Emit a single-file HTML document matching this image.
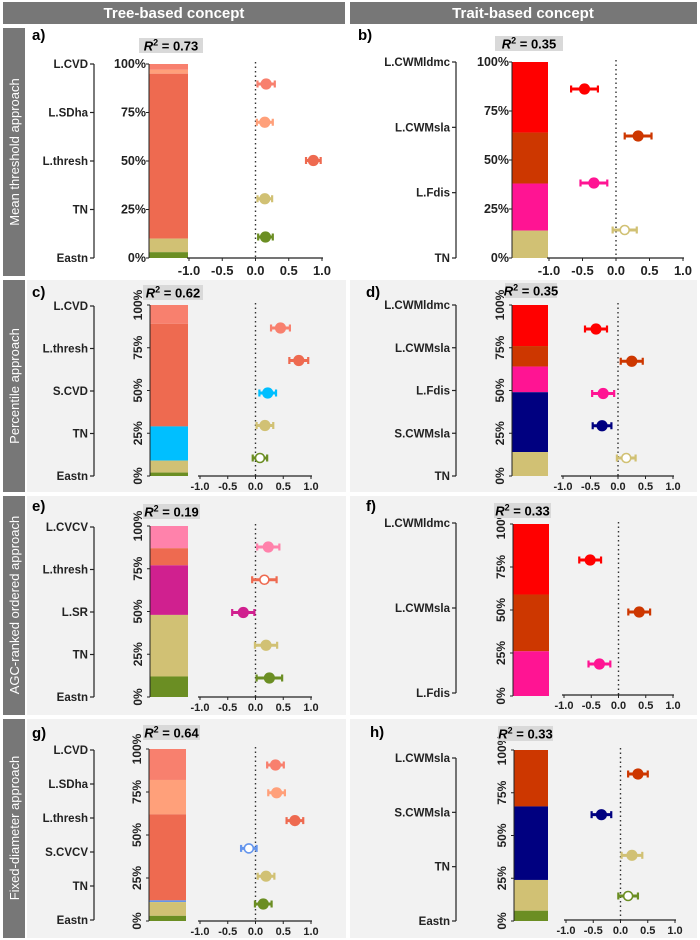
<!DOCTYPE html>
<html><head><meta charset="utf-8">
<style>
body{margin:0;background:#fff;}
svg{display:block;font-family:"Liberation Sans",Arial,sans-serif;}
text{font-weight:bold;}
</style></head>
<body>
<svg id="fig" width="700" height="940" viewBox="0 0 700 940">
  <rect x="3" y="2" width="342" height="22" fill="#777"/>
  <text x="174" y="18" fill="#fff" font-size="15" text-anchor="middle">Tree-based concept</text>
  <rect x="350" y="2" width="347" height="22" fill="#777"/>
  <text x="523" y="18" fill="#fff" font-size="15" text-anchor="middle">Trait-based concept</text>
  <rect x="27" y="280" width="670" height="212" fill="#f2f2f2"/>
  <rect x="27" y="496" width="670" height="219" fill="#f2f2f2"/>
  <rect x="27" y="719" width="670" height="219" fill="#f2f2f2"/>
  <rect x="346" y="28" width="4" height="912" fill="#fff"/>
  <rect x="3" y="28" width="22" height="248" fill="#777"/>
  <rect x="3" y="280" width="22" height="212" fill="#777"/>
  <rect x="3" y="496" width="22" height="219" fill="#777"/>
  <rect x="3" y="719" width="22" height="219" fill="#777"/>
  <text transform="translate(19,152) rotate(-90)" fill="#fff" font-size="13" text-anchor="middle" style="font-weight:normal">Mean threshold approach</text>
  <text transform="translate(19,386) rotate(-90)" fill="#fff" font-size="13" text-anchor="middle" style="font-weight:normal">Percentile approach</text>
  <text transform="translate(19,605) rotate(-90)" fill="#fff" font-size="13" text-anchor="middle" style="font-weight:normal">AGC-ranked ordered approach</text>
  <text transform="translate(19,828) rotate(-90)" fill="#fff" font-size="13" text-anchor="middle" style="font-weight:normal">Fixed-diameter approach</text>
  <g id="panels"></g>
</svg>
<script>
// ---- data ----
const aNames=["L.CVD","L.SDha","L.thresh","TN","Eastn"];
const aShares=[3,2,85,7,3];
const aEst=[0.16,0.14,0.87,0.14,0.15];
const aErr=[0.13,0.12,0.11,0.11,0.11];
const aOpen=[0,0,0,0,0];
const bNames=["L.CWMldmc","L.CWMsla","L.Fdis","TN"];
const bShares=[36,26,24,14];
const bEst=[-0.47,0.33,-0.33,0.13];
const bErr=[0.2,0.2,0.2,0.18];
const bOpen=[0,0,0,1];
const cNames=["L.CVD","L.thresh","S.CVD","TN","Eastn"];
const cShares=[11,60,20,7,2];
const cEst=[0.45,0.78,0.22,0.17,0.08];
const cErr=[0.17,0.17,0.15,0.15,0.13];
const cOpen=[0,0,0,0,1];
const dNames=["L.CWMldmc","L.CWMsla","L.Fdis","S.CWMsla","TN"];
const dShares=[24,12,15,35,14];
const dEst=[-0.4,0.25,-0.27,-0.29,0.15];
const dErr=[0.2,0.2,0.2,0.17,0.17];
const dOpen=[0,0,0,0,1];
const eNames=["L.CVCV","L.thresh","L.SR","TN","Eastn"];
const eShares=[13,10,29,36,12];
const eEst=[0.23,0.16,-0.22,0.19,0.25];
const eErr=[0.2,0.22,0.2,0.2,0.23];
const eOpen=[0,1,0,0,0];
const fNames=["L.CWMldmc","L.CWMsla","L.Fdis"];
const fShares=[41,33,26];
const fEst=[-0.52,0.38,-0.35];
const fErr=[0.2,0.2,0.2];
const fOpen=[0,0,0];
const gNames=["L.CVD","L.SDha","L.thresh","S.CVCV","TN","Eastn"];
const gShares=[18,20,50,1,8,3];
const gEst=[0.36,0.38,0.71,-0.12,0.19,0.14];
const gErr=[0.15,0.15,0.15,0.14,0.15,0.15];
const gOpen=[0,0,0,1,0,0];
const hNames=["L.CWMsla","S.CWMsla","TN","Eastn"];
const hShares=[33,43,18,6];
const hEst=[0.32,-0.35,0.21,0.14];
const hErr=[0.18,0.18,0.19,0.18];
const hOpen=[0,0,0,1];
const r2Values=["0.73","0.35","0.62","0.35","0.19","0.33","0.64","0.33"];
const pctTicks=["0%","25%","50%","75%","100%"];
const xTicks=[-1,-0.5,0,0.5,1];
const colors={"L.CVD":"#f8806e","L.SDha":"#ffa07a","L.thresh":"#ee6a50","TN":"#d1c174","Eastn":"#6b8e23",
 "S.CVD":"#00bfff","L.CVCV":"#ff82ab","L.SR":"#d0208f","S.CVCV":"#6495ed",
 "L.CWMldmc":"#ff0000","L.CWMsla":"#cd3700","L.Fdis":"#ff1493","S.CWMsla":"#000080"};

const panels=[
 {id:"a",names:aNames,shares:aShares,est:aEst,err:aErr,open:aOpen,r2:r2Values[0],lab:[32,40],r2b:[139,38,64],ax:94,lt:64,lb:258,bx:149,bw:39,bt:64,bb:258,fx0:189,fx1:322,ay:258,pt:84,pb:237,rot:false},
 {id:"b",names:bNames,shares:bShares,est:bEst,err:bErr,open:bOpen,r2:r2Values[1],lab:[358,40],r2b:[495,36,68],ax:456,lt:62,lb:258,bx:512,bw:36,bt:62,bb:258,fx0:549,fx1:683,ay:258,pt:89,pb:230,rot:false},
 {id:"c",names:cNames,shares:cShares,est:cEst,err:cErr,open:cOpen,r2:r2Values[2],lab:[32,297],r2b:[143,285,60],ax:94,lt:306,lb:476,bx:150,bw:38,bt:305,bb:476,fx0:200,fx1:311,ay:476,pt:328,pb:458,rot:true},
 {id:"d",names:dNames,shares:dShares,est:dEst,err:dErr,open:dOpen,r2:r2Values[3],lab:[366,297],r2b:[505,283,52],ax:456,lt:305,lb:476,bx:512,bw:36,bt:305,bb:476,fx0:563,fx1:673,ay:476,pt:329,pb:458,rot:true},
 {id:"e",names:eNames,shares:eShares,est:eEst,err:eErr,open:eOpen,r2:r2Values[4],lab:[32,511],r2b:[143,504,57],ax:94,lt:527,lb:697,bx:150,bw:38,bt:526,bb:697,fx0:200,fx1:311,ay:697,pt:547,pb:678,rot:true},
 {id:"f",names:fNames,shares:fShares,est:fEst,err:fErr,open:fOpen,r2:r2Values[5],lab:[366,511],r2b:[494,503,57],ax:456,lt:523,lb:693,bx:513,bw:36,bt:524,bb:696,fx0:564,fx1:673,ay:695,pt:560,pb:664,rot:true},
 {id:"g",names:gNames,shares:gShares,est:gEst,err:gErr,open:gOpen,r2:r2Values[6],lab:[32,738],r2b:[143,725,57],ax:94,lt:750,lb:920,bx:149,bw:37,bt:749,bb:921,fx0:200,fx1:311,ay:921,pt:765,pb:904,rot:true},
 {id:"h",names:hNames,shares:hShares,est:hEst,err:hErr,open:hOpen,r2:r2Values[7],lab:[370,737],r2b:[498,726,55],ax:456,lt:758,lb:921,bx:514,bw:34,bt:750,bb:921,fx0:566,fx1:675,ay:920,pt:774,pb:896,rot:true}
];

const NS="http://www.w3.org/2000/svg";
const root=document.getElementById("panels");
function mk(tag,attrs,parent,txt){const e=document.createElementNS(NS,tag);for(const k in attrs)e.setAttribute(k,attrs[k]);if(txt!==undefined)e.textContent=txt;(parent||root).appendChild(e);return e;}

panels.forEach(p=>{
  const g=mk("g",{});
  
  
  const xs=v=>p.fx0+(v+1)/2*(p.fx1-p.fx0);
  const ys=pc=>p.bb-pc/100*(p.bb-p.bt);
  const L=mk("text",{x:p.lab[0],y:p.lab[1],"font-size":15},g,p.id+")");
  
  
  const rb=mk("rect",{x:p.r2b[0],y:p.r2b[1],width:p.r2b[2],height:15,fill:"#d9d9d9"},g);
  
  
  const n=p.names.length;
  mk("line",{x1:p.ax,x2:p.ax,y1:p.lt,y2:p.lb,stroke:"#222","stroke-width":1.2},g);
  p.names.forEach((nm,i)=>{
    const y=p.lt+i*(p.lb-p.lt)/(n-1);
    mk("line",{x1:p.ax-4,x2:p.ax,y1:y,y2:y,stroke:"#222","stroke-width":1.2},g);
    const t=mk("text",{x:p.ax-6,y:y+4,"font-size":11.5,"text-anchor":"end",fill:"#222"},g,nm);
    
    
  });
  let cum=100;
  p.names.forEach((nm,i)=>{
    const top=cum, bot=cum-p.shares[i];
    const r=mk("rect",{x:p.bx,y:ys(top),width:p.bw,height:ys(bot)-ys(top),fill:colors[nm]},g);
    
    
    cum=bot;
  });
  mk("line",{x1:p.bx,x2:p.bx,y1:p.bt,y2:p.bb,stroke:"#222","stroke-width":1},g);
  pctTicks.forEach((lab,i)=>{
    const y=ys(i*25);
    mk("line",{x1:p.bx-3,x2:p.bx,y1:y,y2:y,stroke:"#222"},g);
    let t;
    if(p.rot){t=mk("text",{transform:`translate(${p.bx-8},${y}) rotate(-90)`,"font-size":12,"text-anchor":"middle",fill:"#222"},g,lab);}
    else{t=mk("text",{x:p.bx-3,y:y+4,"font-size":12.5,"text-anchor":"end",fill:"#222"},g,lab);}
    
    
  });
  // R2 text drawn after so it stays on top
  const rb2=mk("rect",{x:p.r2b[0],y:p.r2b[1],width:p.r2b[2],height:15,fill:"#d9d9d9"},g);
  
  
  const rt=mk("text",{x:p.r2b[0]+p.r2b[2]/2,y:p.r2b[1]+12.5,"font-size":13,"text-anchor":"middle"},g);
  
  
  mk("tspan",{"font-style":"italic"},rt,"R");
  mk("tspan",{"font-size":9,dy:-5},rt,"2");
  mk("tspan",{dy:5},rt," = "+p.r2);
  mk("line",{x1:p.fx0-2,x2:p.fx1+1,y1:p.ay,y2:p.ay,stroke:"#222","stroke-width":1.2},g);
  xTicks.forEach(v=>{
    const x=xs(v);
    mk("line",{x1:x,x2:x,y1:p.ay,y2:p.ay+3,stroke:"#222"},g);
    const t=mk("text",{x:x,y:p.ay+(p.rot?14:17),"font-size":p.rot?11:13,"text-anchor":"middle",fill:"#222"},g,v.toFixed(1));
    
    
  });
  mk("line",{x1:xs(0),x2:xs(0),y1:p.bt-2,y2:p.ay,stroke:"#333","stroke-width":1.4,"stroke-dasharray":"1.5,3"},g);
  p.names.forEach((nm,i)=>{
    const y=p.pt+i*(p.pb-p.pt)/(n-1);
    const c=colors[nm];
    const lo=xs(p.est[i]-p.err[i]), hi=xs(p.est[i]+p.err[i]);
    mk("line",{x1:lo,x2:hi,y1:y,y2:y,stroke:c,"stroke-width":3},g);
    mk("line",{x1:lo,x2:lo,y1:y-3.5,y2:y+3.5,stroke:c,"stroke-width":2.2},g);
    mk("line",{x1:hi,x2:hi,y1:y-3.5,y2:y+3.5,stroke:c,"stroke-width":2.2},g);
    const o=p.open[i];
    const pt=mk("circle",{cx:xs(p.est[i]),cy:y,r:o?4.5:5.6,fill:o?"#fff":c,stroke:c,"stroke-width":o?1.6:0},g);
    
    
  });
});
</script>
</body></html>
